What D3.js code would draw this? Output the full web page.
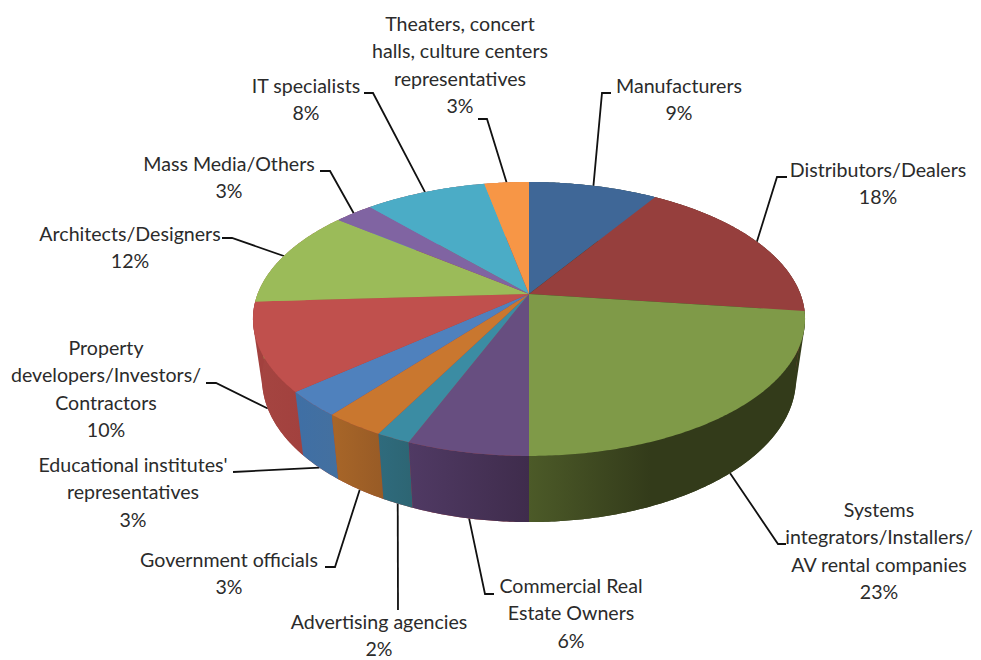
<!DOCTYPE html>
<html>
<head>
<meta charset="utf-8">
<style>
  html, body { margin: 0; background: #fff; }
  text { font-family: Lato, "Open Sans", sans-serif; font-size: 19.6px; fill: #2b2b2b; text-anchor: middle; }
</style>
<script src="https://cdn.jsdelivr.net/npm/d3@7"></script>
</head>
<body>
<svg id="chart" width="981" height="660"></svg>
<script>
const categories = [
  "Manufacturers", "Distributors/Dealers", "Systems integrators/Installers/AV rental companies",
  "Commercial Real Estate Owners", "Advertising agencies", "Government officials",
  "Educational institutes' representatives", "Property developers/Investors/Contractors",
  "Architects/Designers", "Mass Media/Others", "IT specialists",
  "Theaters, concert halls, culture centers representatives"
];
// read from the slice edges, the labels show these rounded
const shares = [9, 18, 23, 6, 1.7, 3, 3, 10.4, 11.6, 2.7, 8.49, 3.11];
const labelLines = [
  ["Manufacturers"], ["Distributors/Dealers"],
  ["Systems", "integrators/Installers/", "AV rental companies"],
  ["Commercial Real", "Estate Owners"], ["Advertising agencies"], ["Government officials"],
  ["Educational institutes'", "representatives"],
  ["Property", "developers/Investors/", "Contractors"],
  ["Architects/Designers"], ["Mass Media/Others"], ["IT specialists"],
  ["Theaters, concert", "halls, culture centers", "representatives"]
];

const topColors = ["#3f6797", "#963f3d", "#7f9a48", "#674e80", "#3b8ca3", "#c9772f",
  "#4f81bd", "#c0504d", "#9bbb59", "#8064a2", "#4bacc6", "#f79646"];
const wallColors = [
  ["#3f6797", "#3f6797"], ["#963f3d", "#963f3d"], ["#4c5a28", "#333b1a"],
  ["#503a64", "#3f2c4c"], ["#2f6b7d", "#2d6573"], ["#a86628", "#985b26"],
  ["#3f6fa5", "#44709f"], ["#a54541", "#a2413e"], ["#9bbb59", "#9bbb59"],
  ["#8064a2", "#8064a2"], ["#4bacc6", "#4bacc6"], ["#f79646", "#f79646"]
];

// label block: centre x, first baseline; leader: elbow and end point (null = straight line)
const labelLayout = [
  { x: 679, y: 93, elbow: [602, 93], end: [611, 93] },
  { x: 878, y: 177, elbow: [777, 177], end: [787, 177] },
  { x: 879, y: 517, elbow: [778, 544], end: [786, 544], front: true },
  { x: 571, y: 593, elbow: [485, 594], end: [494, 594], front: true },
  { x: 379, y: 628.5, elbow: null, end: [398, 610], front: true },
  { x: 229, y: 567, elbow: [335, 567], end: [325, 567], front: true },
  { x: 133, y: 472, elbow: null, end: [233, 472], front: true },
  { x: 106, y: 355, elbow: [216, 383], end: [206, 383], front: true },
  { x: 130, y: 241, elbow: [232, 238], end: [222, 238] },
  { x: 229, y: 171, elbow: [330, 171], end: [320, 171] },
  { x: 306, y: 93, elbow: [373, 93], end: [364, 93] },
  { x: 460, y: 31, elbow: [487, 119], end: [478, 119] }
];

const cx = 529, cy = 294, lineGap = 27.4;
// tilted disc: circle seen in perspective, so the centre sits above the ellipse middle
const persp = 0.1825, scaleX = 271.4, scaleY = 132.4;
const depth = 59, bottomScaleX = 0.967, bottomScaleY = 1.044;

function project(angle, bottom) {
  const u = Math.sin(angle), v = -Math.cos(angle), w = 1 - persp * v;
  const sx = bottom ? bottomScaleX : 1, sy = bottom ? bottomScaleY : 1;
  return [cx + sx * scaleX * u / w, cy + (bottom ? depth : 0) + sy * scaleY * v / w];
}

function arcPoints(d, bottom) {
  const n = Math.max(2, Math.ceil((d.endAngle - d.startAngle) / 0.01));
  return d3.range(n + 1).map((i) => project(d.startAngle + (d.endAngle - d.startAngle) * i / n, bottom));
}

const svg = d3.select("#chart");
const line = d3.line();
const slices = d3.pie().sort(null)(shares);

const defs = svg.append("defs");
slices.forEach((d, i) => {
  const g = defs.append("linearGradient").attr("id", "wall" + i);
  g.append("stop").attr("offset", 0).attr("stop-color", wallColors[i][0]);
  g.append("stop").attr("offset", i === 2 ? 0.44 : 1).attr("stop-color", wallColors[i][1]);
});

// leaders go under the disc so they start right at its rim
const leaders = svg.append("g")
  .attr("fill", "none").attr("stroke", "#111").attr("stroke-width", 1.8);
slices.forEach((d, i) => {
  const l = labelLayout[i];
  const start = project((d.startAngle + d.endAngle) / 2, l.front);
  const pts = l.elbow ? [start, l.elbow, l.end] : [start, l.end];
  leaders.append("path").attr("d", line(pts));
});

// hull of both rims per half, fills the straight silhouette at the far left and right
[[0, Math.PI, 2], [Math.PI, 2 * Math.PI, 7]].forEach(([a0, a1, colorIndex]) => {
  const half = { startAngle: a0, endAngle: a1 };
  const hull = d3.polygonHull(arcPoints(half, false).concat(arcPoints(half, true)));
  svg.append("path").attr("d", line(hull) + "Z").attr("fill", wallColors[colorIndex][1]);
});

// outer walls, back ones first
svg.append("g").selectAll("path")
  .data(slices.map((d, i) => ({ d, i }))
    .sort((a, b) => -Math.cos((a.d.startAngle + a.d.endAngle) / 2) + Math.cos((b.d.startAngle + b.d.endAngle) / 2)))
  .enter()
  .append("path")
  .attr("d", (e) => line(arcPoints(e.d, false).concat(arcPoints(e.d, true).reverse())) + "Z")
  .attr("fill", (e) => `url(#wall${e.i})`);

// top faces
svg.append("g").selectAll("path")
  .data(slices)
  .enter()
  .append("path")
  .attr("d", (d) => line([[cx, cy]].concat(arcPoints(d, false))) + "Z")
  .attr("fill", (d, i) => topColors[i]);

// labels
slices.forEach((d, i) => {
  const l = labelLayout[i];
  const text = svg.append("text").attr("aria-label", categories[i]);
  labelLines[i].concat([Math.round(shares[i]) + "%"]).forEach((s, k) => {
    text.append("tspan").attr("x", l.x).attr("y", l.y + k * lineGap).text(s);
  });
});
</script>
</body>
</html>
